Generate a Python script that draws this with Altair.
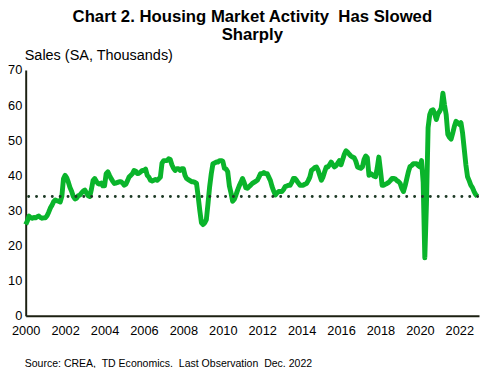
import altair as alt
import pandas as pd

# Monthly CREA sales (SA, thousands)
s2000 = [26.0, 27.0, 28.4, 28.0, 27.8, 28.0, 27.9, 28.2, 28.4, 28.0, 27.8, 27.9]
s2001 = [27.9, 28.5, 29.5, 30.7, 31.5, 32.5, 33.0, 32.8, 32.6, 32.4, 34.0, 39.0]
s2002 = [40.0, 39.3, 38.0, 36.5, 35.4, 34.0, 33.3, 33.5, 34.2, 34.4, 35.0, 35.5]
s2003 = [35.8, 35.0, 34.2, 34.0, 36.0, 38.5, 39.1, 38.3, 37.7, 37.5, 37.8, 37.0]
s2004 = [37.0, 40.5, 41.0, 40.0, 39.1, 38.3, 37.7, 37.8, 38.0, 38.2, 38.2, 37.8]
s2005 = [37.2, 37.5, 38.5, 39.6, 40.0, 40.5, 41.4, 41.2, 40.5, 40.6, 41.0, 41.4]
s2006 = [41.4, 41.8, 40.0, 39.5, 38.6, 38.4, 38.6, 38.8, 38.6, 39.0, 39.5, 43.5]
s2007 = [44.2, 44.2, 44.2, 44.7, 44.5, 43.0, 42.0, 41.4, 41.9, 41.9, 41.4, 41.9]
s2008 = [41.9, 40.0, 39.1, 38.8, 38.5, 38.2, 38.2, 38.0, 37.7, 34.0, 30.0, 26.5]
s2009 = [26.0, 26.5, 27.4, 32.0, 36.8, 40.5, 43.3, 43.5, 43.8, 43.8, 44.2, 44.2]
s2010 = [44.0, 42.0, 41.8, 41.0, 37.0, 35.0, 32.6, 33.2, 34.4, 35.8, 37.0, 38.0]
s2011 = [39.1, 38.0, 36.5, 36.3, 36.8, 37.2, 37.7, 38.0, 38.3, 38.6, 39.5, 40.5]
s2012 = [40.5, 40.8, 40.5, 40.5, 39.5, 38.5, 36.8, 35.5, 34.4, 35.0, 35.4, 35.4]
s2013 = [35.4, 36.0, 36.8, 37.0, 37.2, 37.2, 38.0, 39.1, 39.1, 38.5, 37.8, 37.2]
s2014 = [37.2, 37.2, 37.5, 37.7, 38.5, 39.5, 41.4, 41.8, 42.2, 42.4, 41.5, 40.0]
s2015 = [38.6, 39.5, 41.0, 42.4, 42.4, 43.0, 43.8, 43.0, 42.4, 42.8, 43.5, 44.2]
s2016 = [43.0, 44.5, 46.0, 47.0, 46.6, 46.0, 45.5, 45.2, 45.0, 44.0, 42.4, 42.2]
s2017 = [42.0, 42.4, 44.5, 45.5, 45.0, 40.0, 40.5, 40.2, 39.8, 39.6, 42.0, 45.2]
s2018 = [41.4, 37.2, 37.2, 37.5, 37.7, 38.0, 38.5, 39.1, 39.1, 39.0, 38.5, 38.2]
s2019 = [37.7, 36.3, 35.4, 37.0, 39.0, 41.0, 42.5, 42.8, 43.3, 43.3, 43.3, 42.8]
s2020 = [42.4, 44.2, 38.0, 16.5, 32.0, 53.6, 57.3, 58.5, 58.7, 57.5, 55.9, 57.5]
s2021 = [58.2, 59.2, 63.4, 60.0, 57.3, 51.7, 50.8, 50.3, 52.0, 54.0, 55.4, 55.0]
s2022 = [54.5, 55.0, 52.0, 47.5, 43.0, 39.6, 38.5, 37.2, 36.5, 35.4, 34.5, 34.0]

yearly = [s2000, s2001, s2002, s2003, s2004, s2005, s2006, s2007, s2008, s2009,
          s2010, s2011, s2012, s2013, s2014, s2015, s2016, s2017, s2018, s2019,
          s2020, s2021, s2022]
first_year = 2000
reference_level = [34.0]
x_ticks = list(range(2000, 2023, 2))
y_ticks = [0, 10, 20, 30, 40, 50, 60, 70]

NB = "\u00a0"
title_lines = ["Chart 2. Housing Market Activity" + NB + " Has Slowed", "Sharply"]
y_label = "Sales (SA, Thousands)"
source_note = ("Source: CREA," + NB + " TD Economics." + NB + " Last Observation"
               + NB + " Dec. 2022")

rows = []
for yi, vals in enumerate(yearly):
    for m, v in enumerate(vals):
        rows.append({"t": first_year + yi + m / 12.0, "sales": v})
df = pd.DataFrame(rows)

FONT = "Liberation Sans"
GREEN = "#0ab42b"
AXIS = "#1c2012"

y_scale = alt.Scale(domain=[0, 70], nice=False)
y_axis = alt.Axis(values=y_ticks, title=None, ticks=False, grid=False,
                  domainColor=AXIS, domainWidth=2, labelFontSize=13,
                  labelFont=FONT, labelColor="#000", labelPadding=4,
                  labelOverlap=False, labelFlush=False)

x_enc = alt.X("t:Q", scale=alt.Scale(domain=[2000, 2023], nice=False, zero=False),
              axis=alt.Axis(values=x_ticks, format="d", title=None, ticks=False,
                            grid=False, domainColor=AXIS, domainWidth=2,
                            labelFontSize=13, labelFont=FONT, labelColor="#000",
                            labelPadding=9, labelFlush=False, labelOverlap=False))

line = alt.Chart(df).mark_line(color=GREEN, strokeWidth=5, strokeJoin="round").encode(
    x=x_enc, y=alt.Y("sales:Q", scale=y_scale, axis=y_axis))

rule = alt.Chart(pd.DataFrame({"sales": reference_level})).mark_rule(
    color="#1e3a26", strokeWidth=3, strokeDash=[0.01, 8], strokeCap="round").encode(
    y=alt.Y("sales:Q", scale=y_scale, axis=y_axis), x=alt.value(3), x2=alt.value(461))

ylab = alt.Chart(pd.DataFrame({"t": [y_label]})).mark_text(
    align="left", baseline="middle", fontSize=14.7, font=FONT, color="#000").encode(
    x=alt.value(-1), y=alt.value(-14), text="t:N")

src = alt.Chart(pd.DataFrame({"t": [source_note]})).mark_text(
    align="left", baseline="middle", fontSize=10.7, font=FONT, color="#000").encode(
    x=alt.value(-1), y=alt.value(299), text="t:N")

chart = alt.layer(line, rule, ylab, src).properties(
    width=461, height=250,
    title=alt.TitleParams(title_lines, anchor="middle", frame="group", fontSize=17,
                          font=FONT, fontWeight="bold", color="#000", lineHeight=18,
                          offset=5),
    autosize=alt.AutoSizeParams(type="none"),
    padding={"left": 18, "top": 60, "right": 1, "bottom": 50},
).configure_view(stroke=None)

chart.save("out.html", embed_options={"renderer": "svg", "actions": False})
